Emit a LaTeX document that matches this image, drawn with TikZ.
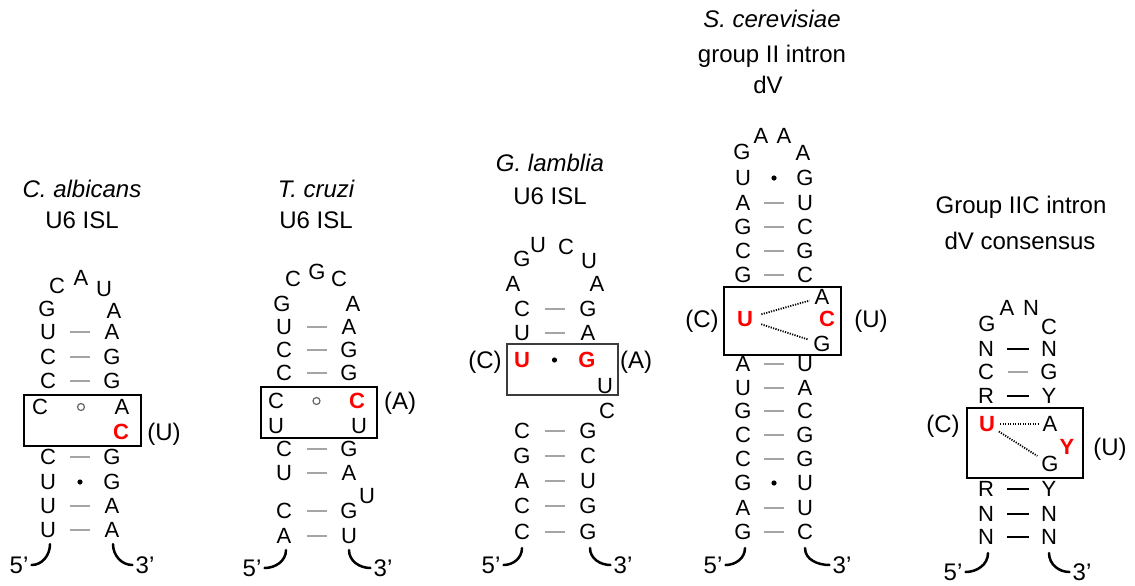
\documentclass[tikz,border=0pt]{standalone}
\usepackage{fontspec}
\setmainfont{Liberation Sans}
\usetikzlibrary{calc}
\definecolor{bondgray}{RGB}{165,165,165}
\definecolor{rnared}{RGB}{255,0,0}
\definecolor{boxgray}{RGB}{60,60,60}
\newcommand\rowpair[6]{\node[base] (#1L) at (#3,#2) {#5};\node[base] (#1R) at (#4,#2) {#6};}
\newcommand\bondWC[2]{\draw[wc] ($(#1)!0.5!(#2)$) ++(-10,0) -- ++(20,0);}
\newcommand\bondBK[2]{\draw[wcblack] ($(#1)!0.5!(#2)$) ++(-11,0) -- ++(22,0);}
\newcommand\bondGU[2]{\fill ($(#1)!0.5!(#2)$) circle (2.6);}
\newcommand\bondNC[2]{\draw[opencirc] ($(#1)!0.5!(#2)$) circle (3.5);}
\begin{document}
\begin{tikzpicture}[x=1pt,y=-1pt,
  base/.style={font=\fontsize{22}{26}\selectfont, inner sep=0pt, text height=15.75pt, text depth=0pt},
  hl/.style={base, text=rnared, font=\fontsize{22}{26}\selectfont\bfseries},
  title/.style={font=\fontsize{24}{28}\selectfont, inner sep=0pt, text height=17.2pt, text depth=0pt},
  ital/.style={title, font=\fontsize{24}{28}\selectfont\itshape},
  wc/.style={draw=bondgray, line width=2pt},
  wcblack/.style={draw=black, line width=2pt},
  opencirc/.style={draw=black!60, line width=1.2pt},
  box/.style={draw=black, line width=1.8pt},
  thinbox/.style={draw=boxgray, line width=1.4pt},
  strand/.style={line width=2.5pt, line cap=round},
  hb/.style={line width=1.8pt, dash pattern=on 1.2pt off 1.3pt}]
\fill[white] (0,0) rectangle (1135,586);
\useasboundingbox (0,0) rectangle (1135,586);

% ---------------- Panel 1: C. albicans
\node[ital] (t1a) at (82,189) {C. albicans};
\node[title] (t1b) at (82,220) {U6 ISL};
\node[base] (p1h1) at (57,286) {C};
\node[base] (p1h2) at (81,278) {A};
\node[base] (p1h3) at (104,289) {U};
\node[base] (p1h0) at (47,309) {G};
\node[base] (p1h4) at (114,311) {A};
\rowpair{p1r1}{332}{48}{112}{U}{A}
\rowpair{p1r2}{357}{48}{112}{C}{G}
\rowpair{p1r3}{381}{48}{112}{C}{G}
\rowpair{p1r4}{407}{40}{122}{C}{A}
\node[hl] (p1x) at (121,432) {C};
\rowpair{p1r5}{457}{48}{112}{C}{G}
\rowpair{p1r6}{482}{48}{112}{U}{G}
\rowpair{p1r7}{506}{48}{112}{U}{A}
\rowpair{p1r8}{530}{48}{112}{U}{A}
\bondWC{p1r1L}{p1r1R}
\bondWC{p1r2L}{p1r2R}
\bondWC{p1r3L}{p1r3R}
\bondNC{p1r4L}{p1r4R}
\bondWC{p1r5L}{p1r5R}
\bondGU{p1r6L}{p1r6R}
\bondWC{p1r7L}{p1r7R}
\bondWC{p1r8L}{p1r8R}
\draw[box] (24,395) rectangle (141,446);
\node[title] (p1m) at (164,432) {(U)};
\node[title] (p1five) at (19,565) {5'};
\node[title] (p1three) at (145,565) {3'};
\draw[strand] (p1r8L.south) ++(2,6) to[out=-90,in=0] ([xshift=3pt]p1five.east);
\draw[strand] (p1r8R.south) ++(1,6) to[out=-90,in=180] ([xshift=-3pt]p1three.west);

% ---------------- Panel 2: T. cruzi
\node[ital] (t2a) at (316,189) {T. cruzi};
\node[title] (t2b) at (316,220) {U6 ISL};
\node[base] (p2h1) at (293,279) {C};
\node[base] (p2h2) at (317,272) {G};
\node[base] (p2h3) at (339,279) {C};
\node[base] (p2h0) at (282,304) {G};
\node[base] (p2h4) at (353,304) {A};
\rowpair{p2r1}{327}{284}{349}{U}{A}
\rowpair{p2r2}{350}{284}{349}{C}{G}
\rowpair{p2r3}{373}{284}{349}{C}{G}
\node[base] (p2r4L) at (276,401) {C};
\node[hl] (p2r4R) at (357,401) {C};
\rowpair{p2r5}{426}{276}{359}{U}{U}
\rowpair{p2r6}{449}{284}{349}{C}{G}
\rowpair{p2r7}{473}{284}{349}{U}{A}
\node[base] (p2u) at (367,496) {U};
\rowpair{p2r8}{511}{284}{349}{C}{G}
\rowpair{p2r9}{536}{284}{349}{A}{U}
\bondWC{p2r1L}{p2r1R}
\bondWC{p2r2L}{p2r2R}
\bondWC{p2r3L}{p2r3R}
\bondNC{p2r4L}{p2r4R}
\bondWC{p2r6L}{p2r6R}
\bondWC{p2r7L}{p2r7R}
\bondWC{p2r8L}{p2r8R}
\bondWC{p2r9L}{p2r9R}
\draw[box] (261,387) rectangle (377,438);
\node[title] (p2m) at (400,401) {(A)};
\node[title] (p2five) at (252,568) {5'};
\node[title] (p2three) at (383,568) {3'};
\draw[strand] (p2r9L.south) ++(2,6) to[out=-90,in=0] ([xshift=3pt]p2five.east);
\draw[strand] (p2r9R.south) ++(0,6) to[out=-90,in=180] ([xshift=-3pt]p2three.west);

% ---------------- Panel 3: G. lamblia
\node[ital] (t3a) at (550,163) {G. lamblia};
\node[title] (t3b) at (550,196) {U6 ISL};
\node[base] (p3h1) at (522,259) {G};
\node[base] (p3h2) at (538,245) {U};
\node[base] (p3h3) at (566,247) {C};
\node[base] (p3h4) at (589,261) {U};
\node[base] (p3h0) at (513,284) {A};
\node[base] (p3h5) at (597,284) {A};
\rowpair{p3r1}{309}{522}{588}{C}{G}
\rowpair{p3r2}{333}{522}{588}{U}{A}
\node[hl] (p3r3L) at (522,360) {U};
\node[hl] (p3r3R) at (587,360) {G};
\node[base] (p3u) at (605,386) {U};
\node[base] (p3c) at (607,411) {C};
\rowpair{p3r4}{431}{522}{588}{C}{G}
\rowpair{p3r5}{456}{522}{588}{G}{C}
\rowpair{p3r6}{481}{522}{588}{A}{U}
\rowpair{p3r7}{506}{522}{588}{C}{G}
\rowpair{p3r8}{532}{522}{588}{C}{G}
\bondWC{p3r1L}{p3r1R}
\bondWC{p3r2L}{p3r2R}
\bondGU{p3r3L}{p3r3R}
\bondWC{p3r4L}{p3r4R}
\bondWC{p3r5L}{p3r5R}
\bondWC{p3r6L}{p3r6R}
\bondWC{p3r7L}{p3r7R}
\bondWC{p3r8L}{p3r8R}
\draw[thinbox] (507,344) rectangle (618,395);
\node[title] (p3m1) at (485,360) {(C)};
\node[title] (p3m2) at (636,360) {(A)};
\node[title] (p3five) at (491,565) {5'};
\node[title] (p3three) at (623,565) {3'};
\draw[strand] (p3r8L.south) ++(0,8) to[out=-90,in=0] ([xshift=3pt]p3five.east);
\draw[strand] (p3r8R.south) ++(2,8) to[out=-90,in=180] ([xshift=-3pt]p3three.west);

% ---------------- Panel 4: S. cerevisiae dV
\node[ital] (t4a) at (772,19) {S. cerevisiae};
\node[title] (t4b) at (772,54) {group II intron};
\node[title] (t4c) at (768,85) {dV};
\node[base] (p4h1) at (742,152) {G};
\node[base] (p4h2) at (761,136) {A};
\node[base] (p4h3) at (784,136) {A};
\node[base] (p4h4) at (803,153) {A};
\rowpair{p4r1}{178}{743}{805}{U}{G}
\rowpair{p4r2}{203}{743}{805}{A}{U}
\rowpair{p4r3}{227}{743}{805}{G}{C}
\rowpair{p4r4}{251}{743}{805}{C}{G}
\rowpair{p4r5}{275}{743}{805}{G}{C}
\node[base] (p4a) at (822,297) {A};
\node[hl] (p4u) at (745,319) {U};
\node[hl] (p4c) at (827,319) {C};
\node[base] (p4g) at (822,344) {G};
\rowpair{p4r6}{364}{743}{805}{A}{U}
\rowpair{p4r7}{388}{743}{805}{U}{A}
\rowpair{p4r8}{411}{743}{805}{G}{C}
\rowpair{p4r9}{435}{743}{805}{C}{G}
\rowpair{p4r10}{459}{743}{805}{C}{G}
\rowpair{p4r11}{483}{743}{805}{G}{U}
\rowpair{p4r12}{508}{743}{805}{A}{U}
\rowpair{p4r13}{532}{743}{805}{G}{C}
\bondGU{p4r1L}{p4r1R}
\bondWC{p4r2L}{p4r2R}
\bondWC{p4r3L}{p4r3R}
\bondWC{p4r4L}{p4r4R}
\bondWC{p4r5L}{p4r5R}
\bondWC{p4r6L}{p4r6R}
\bondWC{p4r7L}{p4r7R}
\bondWC{p4r8L}{p4r8R}
\bondWC{p4r9L}{p4r9R}
\bondWC{p4r10L}{p4r10R}
\bondGU{p4r11L}{p4r11R}
\bondWC{p4r12L}{p4r12R}
\bondWC{p4r13L}{p4r13R}
\draw[hb, shorten <=17pt, shorten >=13pt] (p4u.center) -- (p4a.center);
\draw[hb, shorten <=17pt, shorten >=14pt] (p4u.center) -- (p4g.center);
\draw[box] (724,287) rectangle (841,355);
\node[title] (p4m1) at (702,319) {(C)};
\node[title] (p4m2) at (871,319) {(U)};
\node[title] (p4five) at (713,565) {5'};
\node[title] (p4three) at (842,565) {3'};
\draw[strand] (p4r13L.south) ++(2,8) to[out=-90,in=0] ([xshift=3pt]p4five.east);
\draw[strand] (p4r13R.south) ++(0,8) to[out=-90,in=180] ([xshift=-3pt]p4three.west);

% ---------------- Panel 5: Group IIC consensus
\node[title] (t5a) at (1021,205) {Group IIC intron};
\node[title] (t5b) at (1020,241) {dV consensus};
\node[base] (p5h1) at (987,324) {G};
\node[base] (p5h2) at (1007,308) {A};
\node[base] (p5h3) at (1031,308) {N};
\node[base] (p5h4) at (1049,327) {C};
\rowpair{p5r1}{349}{986}{1049}{N}{N}
\rowpair{p5r2}{372}{986}{1049}{C}{G}
\rowpair{p5r3}{396}{986}{1049}{R}{Y}
\node[hl] (p5u) at (987,424) {U};
\node[base] (p5a) at (1050,424) {A};
\node[hl] (p5y) at (1067,447) {Y};
\node[base] (p5g) at (1050,464) {G};
\rowpair{p5r4}{489}{986}{1049}{R}{Y}
\rowpair{p5r5}{514}{986}{1049}{N}{N}
\rowpair{p5r6}{537}{986}{1049}{N}{N}
\bondBK{p5r1L}{p5r1R}
\bondWC{p5r2L}{p5r2R}
\bondBK{p5r3L}{p5r3R}
\bondBK{p5r4L}{p5r4R}
\bondBK{p5r5L}{p5r5R}
\bondBK{p5r6L}{p5r6R}
\draw[hb, shorten <=13pt, shorten >=12pt] (p5u.center) -- (p5a.center);
\draw[hb, shorten <=14pt, shorten >=15pt] (p5u.center) -- (p5g.center);
\draw[box] (967,408) rectangle (1083,478);
\node[title] (p5m1) at (943,424) {(C)};
\node[title] (p5m2) at (1110,447) {(U)};
\node[title] (p5five) at (953,572) {5'};
\node[title] (p5three) at (1082,572) {3'};
\draw[strand] (p5r6L.south) ++(2,8) to[out=-90,in=0] ([xshift=3pt]p5five.east);
\draw[strand] (p5r6R.south) ++(0,8) to[out=-90,in=180] ([xshift=-3pt]p5three.west);
\end{tikzpicture}
\end{document}
